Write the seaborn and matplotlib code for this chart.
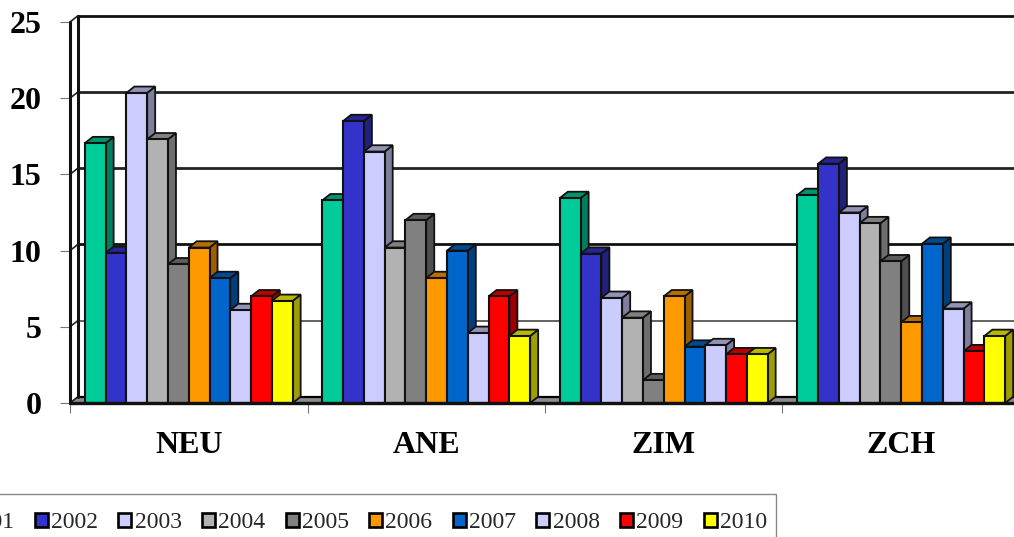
import numpy as np
import pandas as pd
import matplotlib
matplotlib.use('Agg')
import matplotlib.pyplot as plt
from matplotlib.patches import Polygon, Rectangle
from matplotlib.colors import to_rgb
import seaborn as sns

regions = ['NEU', 'ANE', 'ZIM', 'ZCH']
years = ['2001', '2002', '2003', '2004', '2005', '2006', '2007', '2008', '2009', '2010']
neu = [17.05, 9.85, 20.35, 17.3, 9.1, 10.2, 8.2, 6.1, 7.0, 6.7]
ane = [13.3, 18.5, 16.5, 10.2, 12.0, 8.2, 10.0, 4.6, 7.0, 4.4]
zim = [13.45, 9.8, 6.9, 5.6, 1.5, 7.0, 3.7, 3.8, 3.2, 3.2]
zch = [13.65, 15.7, 12.5, 11.8, 9.3, 5.3, 10.45, 6.2, 3.4, 4.4]
colors = ['#00CC99', '#3333CC', '#CCCCFF', '#B2B2B2', '#808080',
          '#FF9900', '#0066CC', '#CCCCFF', '#FF0000', '#FFFF00']
y_ticks = [0, 5, 10, 15, 20, 25]
grid_widths = [1.6, 1.3, 2.0, 2.0, 2.0, 2.0]
grid_colors = ['black', '#555555', '#111111', '#222222', '#222222', '#111111']

rows = []
for region, vals in zip(regions, [neu, ane, zim, zch]):
    for year, v in zip(years, vals):
        rows.append({'Region': region, 'Year': year, 'Value': v})
df = pd.DataFrame(rows)

sns.set_style('white')
plt.rcParams['font.family'] = ['Liberation Serif', 'DejaVu Serif']

W, H = 1014, 537
fig = plt.figure(figsize=(W / 100, H / 100), dpi=100)
ax = fig.add_axes([70 / W, (H - 403) / H, 944 / W, 381 / H])

sns.barplot(data=df, x='Region', y='Value', hue='Year', palette=colors, saturation=1,
            width=0.875, gap=0, edgecolor='#111111', linewidth=1.5, errorbar=None, ax=ax)

ax.set_xlim(-0.5, -0.5 + 944 / 237.5)
ax.set_ylim(0, 25)
ax.set_xlabel('')
ax.set_ylabel('')
sns.despine(ax=ax, left=True, bottom=True, right=True, top=True)

# depth of the fake 3d box, in data units
dx = 8 / 237.5
dy = 6.3 / 15.24
x0, x1 = ax.get_xlim()

# floor and walls
ax.add_patch(Polygon([(x0, 0), (x1 + 1, 0), (x1 + 1 + dx, dy), (x0 + dx, dy)],
                     fc='#8c8c8c', ec='#555555', lw=0.8, zorder=0.5, clip_on=False))
for t, lw, c in zip(y_ticks, grid_widths, grid_colors):
    ax.plot([x0 + dx, x1 + 1], [t + dy, t + dy], color=c, lw=lw, zorder=0.8, clip_on=False)
    ax.plot([x0, x0 + dx], [t, t + dy], color='#222222', lw=1.2, zorder=0.8, clip_on=False)
ax.plot([x0, x0], [0, 25], color='#111111', lw=2.2, zorder=0.9, clip_on=False)
ax.plot([x0 + dx, x0 + dx], [dy, 25 + dy], color='#111111', lw=2.2, zorder=0.9, clip_on=False)

# side and top faces, taken from the bars seaborn drew
bars = [b for cont in ax.containers for b in cont]
bars.sort(key=lambda b: b.get_x())
for i, b in enumerate(bars):
    z = 2 + i
    bx, bw, bh = b.get_x(), b.get_width(), b.get_height()
    rgb = np.array(to_rgb(b.get_facecolor()[:3]))
    b.set_zorder(z + 0.5)
    ax.add_patch(Polygon([(bx + bw, 0), (bx + bw + dx, dy), (bx + bw + dx, bh + dy), (bx + bw, bh)],
                         fc=rgb * 0.62, ec='#111111', lw=1.3, zorder=z, clip_on=False))
    ax.add_patch(Polygon([(bx, bh), (bx + bw, bh), (bx + bw + dx, bh + dy), (bx + dx, bh + dy)],
                         fc=rgb * 0.72, ec='#111111', lw=1.3, zorder=z, clip_on=False))

ax.plot([x0, x1 + 1], [0, 0], color='#111111', lw=2.4, zorder=100, clip_on=False)

# ticks
ax.set_yticks(y_ticks)
ax.set_yticklabels(y_ticks, fontsize=23, fontweight='bold', color='black')
ax.tick_params(axis='y', left=True, length=7, width=0.8, color='#777777', pad=13.5)
ax.set_xticks(range(len(regions)))
ax.set_xticklabels(regions, fontsize=23, fontweight='bold', color='black')
ax.tick_params(axis='x', which='major', bottom=False, pad=16.5)
ax.set_xticks(np.arange(-0.5, 3.5, 1), minor=True)
ax.tick_params(axis='x', which='minor', bottom=True, length=7, width=0.8, color='#777777')

# legend box runs off the left and bottom of the picture
ax.add_patch(Rectangle((-100 / W, -20 / H), 876 / W, (H - 494 + 20) / H, transform=fig.transFigure,
                       fc='white', ec='#888888', lw=1.0, zorder=150, clip_on=False))
handles, labels = ax.get_legend_handles_labels()
leg = ax.legend(handles, labels, ncol=10, fontsize=17, frameon=False,
                loc='upper right', bbox_to_anchor=(767 / W, 1 - 512 / H),
                bbox_transform=fig.transFigure, borderaxespad=0, borderpad=0,
                handlelength=0.55, handleheight=0.55, handletextpad=0.14, columnspacing=0.86)
leg.set_zorder(200)
for h in leg.legend_handles:
    h.set_edgecolor('black')
    h.set_linewidth(1.9)

fig.savefig('out.png', dpi=100)
